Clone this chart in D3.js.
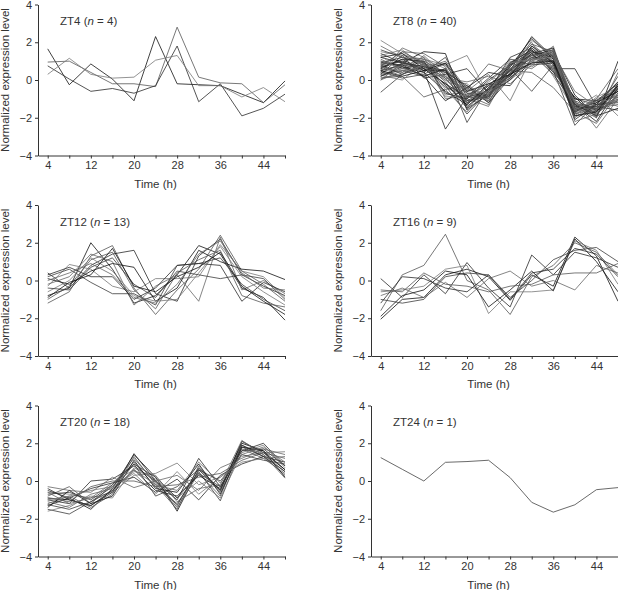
<!DOCTYPE html>
<html>
<head>
<meta charset="utf-8">
<script src="https://cdn.jsdelivr.net/npm/d3@7"></script>
<style>
  html, body { margin: 0; padding: 0; background: #fff; }
  svg { display: block; font-family: "Liberation Sans", Arial, sans-serif; }
  .axis text { font-family: "Liberation Sans", Arial, sans-serif; font-size: 11px; fill: #333; }
  .axis path, .axis line { stroke: #333; stroke-width: 1; }
  .lbl { font-size: 11.5px; fill: #333; }
</style>
</head>
<body>
<svg id="chart" width="618" height="590"></svg>
<script>
// time points (h)
const times = [4, 8, 12, 16, 20, 24, 28, 32, 36, 40, 44, 48];
const xTickLabels = [4, 12, 20, 28, 36, 44];
const yTicks = [-4, -2, 0, 2, 4];

const zt4 = [
  [1.65, -0.25, 0.85, 0.05, -1.1, 2.3, -0.2, -0.25, -0.3, -0.75, -1.2, -0.05],
  [0.95, 1.0, 0.4, -0.2, -0.2, -0.35, 2.8, 0.15, -0.15, -0.2, -1.2, -0.25],
  [0.75, 0.05, -0.6, -0.45, -0.7, -0.3, 1.8, -1.15, -0.2, -1.9, -1.5, -0.75],
  [0.3, 1.15, 0.3, 0.1, 0.15, 1.05, 1.3, -0.3, -0.3, -0.9, -0.4, -1.15]
];

const zt8 = [
  [0.5, 0.8, 0.6, -0.2, -0.9, -0.6, 0.3, 1.2, 1.0, -1.4, -1.5, -0.6],
  [0.2, 0.6, 1.0, 0.4, -0.7, -0.8, 0.6, 1.5, 1.3, -1.6, -1.3, -0.3],
  [0.9, 1.2, 0.8, 0.1, -1.2, -0.5, 0.1, 1.0, 1.6, -1.2, -1.8, -0.8],
  [2.1, 1.4, 0.9, 0.3, -0.6, -0.9, 0.4, 1.8, 1.1, -1.7, -1.4, -0.5],
  [-0.65, 0.3, 0.7, 0.5, -0.4, -1.2, 0.8, 1.3, 0.9, -1.9, -1.6, 0.2],
  [0.4, 1.7, 1.2, -1.0, -0.8, -0.3, 0.2, 1.6, 0.7, -1.5, -1.1, -0.9],
  [1.2, 0.9, 1.5, 1.4, -1.6, -0.7, 0.5, 2.3, 1.2, -1.3, -2.2, -0.4],
  [0.1, 0.2, -0.9, -0.5, -0.3, -1.0, 0.9, 0.6, 1.4, -1.8, -1.5, -0.7],
  [0.7, 1.0, 0.5, -2.6, -0.9, 0.1, 1.1, 0.8, 0.9, -1.0, -1.3, -1.2],
  [1.5, 1.3, 1.1, 0.8, 1.3, -0.8, 0.0, 0.9, 1.8, -1.6, -1.7, -0.2],
  [0.3, 0.5, 0.2, 0.6, -2.25, -0.4, 0.3, 1.4, 0.5, -2.4, -1.2, -0.6],
  [0.6, 0.4, 1.3, 0.2, -1.0, -1.4, 0.7, 1.9, 1.0, -1.1, -2.55, -1.0],
  [1.0, 0.7, 0.4, -0.6, -1.3, -0.2, -0.3, 1.1, 1.5, -0.8, -1.9, -1.5],
  [0.0, 0.9, 0.6, 1.0, -0.5, 0.85, 0.5, 0.4, -0.4, -1.7, -1.0, 0.6],
  [0.8, 0.3, 0.9, -0.3, -1.8, -0.6, 1.2, 1.7, 0.6, 0.6, -1.4, -0.4],
  [1.3, 1.6, 0.7, 0.0, -0.2, -1.1, 0.2, 2.1, 1.3, -1.5, -0.8, -1.9],
  [0.45, 0.1, 0.3, 0.9, -1.1, -0.9, 0.6, -0.6, 0.8, -1.2, -1.6, -1.1],
  [0.2, 0.8, 1.0, -0.8, -0.6, 0.3, -1.1, 1.2, 1.7, -2.0, -1.2, -0.1],
  [0.6, 1.1, 0.5, 0.5, -1.4, -0.5, 0.9, 1.6, 0.4, -0.9, -2.0, 1.0],
  [1.1, 0.6, 0.8, -0.4, -0.8, -1.3, 0.4, 0.9, 1.2, -1.8, -1.3, -0.8],
  [0.3, 1.3, 0.1, 0.3, 0.6, -0.7, 0.0, 1.3, 1.6, -1.4, -1.7, -0.3],
  [0.7, 0.4, 1.1, 0.6, -1.0, -0.1, 0.8, 2.0, 0.2, -1.6, -1.0, -1.4],
  [1.6, 1.2, 0.9, -0.1, -1.5, -0.8, 0.3, 1.5, 1.0, -1.3, -1.5, -0.5],
  [0.0, 0.5, 0.6, 0.2, -0.7, -1.0, 1.0, 0.7, 1.4, -2.2, -1.8, -0.9],
  [0.9, 0.8, 0.2, -1.1, -0.4, 0.4, 0.2, 1.8, 0.9, -1.0, -1.1, -0.2],
  [0.4, 1.5, 1.4, 0.7, -1.2, -0.6, 0.6, 1.1, 1.3, -1.7, -2.3, -0.7],
  [1.4, 0.9, 0.7, 0.4, -0.3, -1.2, 0.1, 1.4, 1.7, -1.5, -1.4, -1.6],
  [0.25, 0.0, 0.9, -0.5, -1.7, -0.4, 0.5, 1.0, 0.7, -1.9, -0.9, -0.4],
  [0.8, 1.0, 0.4, 1.2, -0.9, -0.9, 0.9, 1.6, 0.5, -1.1, -1.6, -1.0],
  [0.55, 0.7, 1.2, 0.1, -0.1, 0.2, -0.2, 0.8, 1.5, -1.4, -2.0, 0.4],
  [1.2, 1.4, 0.6, -0.2, -1.3, -0.3, 0.7, 2.2, 1.1, -1.6, -1.2, -0.6],
  [0.1, 0.3, 0.8, 0.8, -0.7, -1.1, 0.4, 1.2, 0.6, -1.3, -1.5, -1.3],
  [0.65, 1.1, 1.0, -0.7, -1.0, 0.0, 0.8, 1.5, 1.2, -2.1, -1.3, -0.1],
  [1.0, 0.6, 0.3, 0.2, -0.5, -0.7, 1.1, 1.0, 1.6, -1.2, -1.8, -0.8],
  [0.35, 0.9, 0.7, 0.5, -1.1, -0.5, 0.2, 1.7, 0.8, -1.7, -1.1, -0.5],
  [1.8, 1.2, 1.1, 0.0, -0.9, -1.0, 0.6, 1.3, 1.4, -0.6, -1.4, -1.1],
  [0.5, 0.2, 0.5, 0.9, -0.6, -0.2, 0.3, 0.9, 1.0, -1.9, -1.7, -0.3],
  [0.75, 1.5, 0.9, -0.3, -1.2, -0.8, 0.7, 1.9, 1.5, -1.5, -1.5, -0.9],
  [0.2, 0.7, 0.2, 0.6, -1.5, -0.4, 0.5, 1.4, 0.3, -1.3, -1.9, -0.2],
  [1.3, 0.4, 0.8, -0.9, -0.8, -0.6, 0.9, 1.1, 1.2, -1.6, -1.0, -1.2]
];

const zt12 = [
  [-0.8, -0.4, 2.0, 0.6, -1.2, -0.8, 0.3, 1.85, 1.4, -0.4, -0.9, -2.1],
  [-1.2, -0.6, 1.3, 1.85, -0.4, -1.8, -0.5, 0.6, 2.4, 0.5, -0.2, -1.1],
  [0.4, -0.4, 0.8, 1.4, 1.6, -0.7, -1.1, 1.3, 2.2, 0.3, -0.3, -0.8],
  [-0.3, 0.85, 0.6, -0.3, -0.6, 0.1, 0.1, 0.2, 1.9, 0.5, 0.2, -0.9],
  [0.2, 0.6, -0.1, -0.7, -0.7, -1.3, 0.8, 0.9, 1.2, -0.2, -1.0, -1.6],
  [-0.2, 0.2, 1.4, 1.0, -1.3, -0.3, 0.3, -1.1, 2.3, -0.5, 0.0, -0.7],
  [0.1, -0.2, 0.5, 0.9, 0.7, -1.1, -0.4, 1.6, 1.0, 0.6, 0.5, 0.05],
  [-1.0, -0.3, 1.1, 1.5, -0.5, -1.5, 0.4, 1.1, 1.6, -0.8, -1.2, -1.4],
  [0.3, 0.7, 0.2, 0.2, -1.0, -0.4, 0.8, 0.9, 0.8, -1.1, -0.1, -0.6],
  [-0.6, 0.0, 1.2, 0.5, -0.8, -1.1, -1.0, 0.4, 1.8, 0.2, -0.6, -1.3],
  [-0.4, -0.5, 0.7, 1.2, -0.2, -0.9, 0.5, 0.3, 0.1, 0.3, 0.1, -1.0],
  [0.0, 0.4, 0.9, 0.3, -0.9, -1.2, -0.2, 1.4, 2.1, 0.4, -0.4, -0.5],
  [-0.9, -0.1, 0.3, 1.7, -0.3, -0.6, 0.2, 0.7, 1.5, -0.3, -1.1, -1.8]
];

const zt16 = [
  [-2.05, -1.0, -0.9, 0.3, 0.6, 0.2, -1.05, 0.3, -0.3, 2.3, 1.3, -1.1],
  [-1.6, 0.3, 0.8, 2.45, 0.0, -0.5, -1.8, 0.2, 0.8, 2.0, 1.5, 0.3],
  [0.1, -0.9, 0.3, -0.7, 0.95, -0.4, -1.4, 1.35, 0.3, 1.5, 1.2, 0.7],
  [-0.6, -0.5, -0.3, 0.6, 0.8, -1.75, -0.6, -0.6, -0.5, 2.1, 1.6, -0.2],
  [-1.0, -1.2, -1.0, 0.2, 0.4, 0.3, -0.9, 0.0, 1.1, 1.6, 1.75, 1.0],
  [-0.8, -0.4, -0.9, -0.1, -0.9, 0.1, 0.5, -0.3, 0.0, -0.5, 0.8, 0.4],
  [-1.9, -0.8, -0.5, 0.5, 0.3, -1.4, -0.5, 0.5, -0.55, 2.2, 1.0, -0.6],
  [-0.5, -0.6, 0.4, -0.2, -0.3, -0.6, -0.3, -0.2, 0.3, 0.4, 0.4, 0.9],
  [-1.2, 0.2, 0.1, -0.4, -0.6, 0.3, -1.0, 0.4, 0.6, 1.7, 1.4, 0.2]
];

const zt20 = [
  [-1.3, -0.9, -1.5, -0.4, 1.4, 0.2, -1.6, 0.6, -0.5, 2.1, 1.5, 0.6],
  [-0.8, -0.3, -1.2, -0.2, 1.2, -0.1, -1.4, 0.4, -0.8, 1.9, 1.4, 0.5],
  [-1.0, -1.2, 0.0, 0.1, 0.8, 0.0, -1.0, 1.2, -0.3, 1.6, 2.0, 0.8],
  [-0.6, -0.7, -0.9, -0.6, 0.3, 0.4, 0.95, -0.2, 0.2, 1.3, 1.5, 1.55],
  [-1.5, -1.75, -1.1, -0.3, 1.0, -0.3, -1.2, 0.5, -1.05, 1.8, 1.3, 0.3],
  [-0.3, -0.5, -0.6, 0.2, -0.35, 0.0, 0.3, -0.5, 0.7, 1.2, 1.7, 1.4],
  [-0.9, -1.0, -1.3, -0.5, 0.6, -0.5, -0.8, 0.3, -0.4, 2.0, 1.6, 0.2],
  [-1.2, -0.8, -1.4, -0.7, 1.3, -0.2, -1.5, 0.8, -0.6, 1.7, 1.2, 0.4],
  [-0.5, -0.9, -0.4, -0.1, 0.2, -0.6, 0.1, -1.0, 0.3, 0.9, 1.3, 1.0],
  [-1.6, -1.3, -0.8, -0.9, 0.7, 0.1, -0.9, 0.0, -0.9, 1.5, 1.9, 0.7],
  [-0.7, -0.6, -1.0, -0.2, 0.9, -0.8, -0.3, 0.6, 0.0, 1.4, 1.1, 0.9],
  [-1.1, -1.4, -0.7, -0.4, 0.5, 0.3, -1.1, -0.4, -0.2, 2.15, 1.4, 0.15],
  [-1.4, -0.5, -1.2, -0.8, 1.1, -0.4, -0.6, 0.9, -0.7, 1.8, 1.6, 0.6],
  [-0.9, -1.1, -0.3, 0.0, 0.0, -0.3, -0.2, 0.2, 0.4, 1.1, 1.5, 1.2],
  [-0.4, -1.0, -1.3, -0.6, 1.45, 0.0, -1.3, 0.7, -0.5, 1.9, 1.3, 0.5],
  [-1.0, -0.8, -0.5, -0.3, 0.4, -0.7, 0.5, -0.7, 0.2, 1.0, 1.2, 1.3],
  [-1.25, -1.5, -1.1, -0.5, 0.9, 0.2, -0.9, 0.4, -0.3, 1.6, 1.7, 0.8],
  [-0.6, -1.2, -0.9, -0.1, 0.6, -0.2, -0.5, 1.0, -0.1, 1.4, 1.8, 1.0]
];

const zt24 = [
  [1.24, 0.62, 0.0, 0.99, 1.03, 1.1, 0.18, -1.13, -1.65, -1.26, -0.46, -0.35]
];

const panelNames = ['ZT4', 'ZT8', 'ZT12', 'ZT16', 'ZT20', 'ZT24'];
const panelSeries = [zt4, zt8, zt12, zt16, zt20, zt24];

// layout
const colX = [38, 371];
const rowY = [4.5, 205, 405.5];
const plotW = 247, plotH = 151;
const greys = ['#111', '#555', '#2a2a2a', '#777', '#3c3c3c', '#666'];

const svg = d3.select('#chart');

const x = d3.scaleLinear().domain([2.2, 48]).range([0, plotW]);
const y = d3.scaleLinear().domain([-4, 4]).range([plotH, 0]);

const line = d3.line()
    .x((d, i) => x(times[i]))
    .y(d => y(d));

panelNames.forEach((name, p) => {
    const g = svg.append('g')
        .attr('transform', `translate(${colX[p % 2]},${rowY[Math.floor(p / 2)]})`);
    const rows = panelSeries[p];

    // 表达曲线
    g.append('g').selectAll('path')
        .data(rows)
        .join('path')
        .attr('fill', 'none')
        .attr('stroke', (d, i) => rows.length === 1 ? '#444' : greys[i % greys.length])
        .attr('stroke-width', 0.8)
        .attr('d', line);

    // 轴
    g.append('g')
        .attr('class', 'axis')
        .call(d3.axisLeft(y).tickValues(yTicks).tickSize(3).tickSizeOuter(0).tickPadding(3));

    g.append('g')
        .attr('class', 'axis')
        .attr('transform', `translate(0,${plotH})`)
        .call(d3.axisBottom(x).tickValues(times).tickSize(3).tickSizeOuter(0).tickPadding(3)
            .tickFormat(d => xTickLabels.includes(d) ? d : ''));

    // 标题
    const t = g.append('text')
        .attr('class', 'lbl')
        .attr('x', 22).attr('y', 20.5);
    t.append('tspan').text(`${name} (`);
    t.append('tspan').style('font-style', 'italic').text('n');
    t.append('tspan').text(` = ${rows.length})`);

    // 轴标题
    g.append('text')
        .attr('class', 'lbl')
        .attr('x', x(24)).attr('y', plotH + 32)
        .attr('text-anchor', 'middle')
        .text('Time (h)');

    g.append('text')
        .attr('class', 'lbl')
        .attr('transform', `translate(-29,${plotH / 2}) rotate(-90)`)
        .attr('text-anchor', 'middle')
        .text('Normalized expression level');
});
</script>
</body>
</html>
